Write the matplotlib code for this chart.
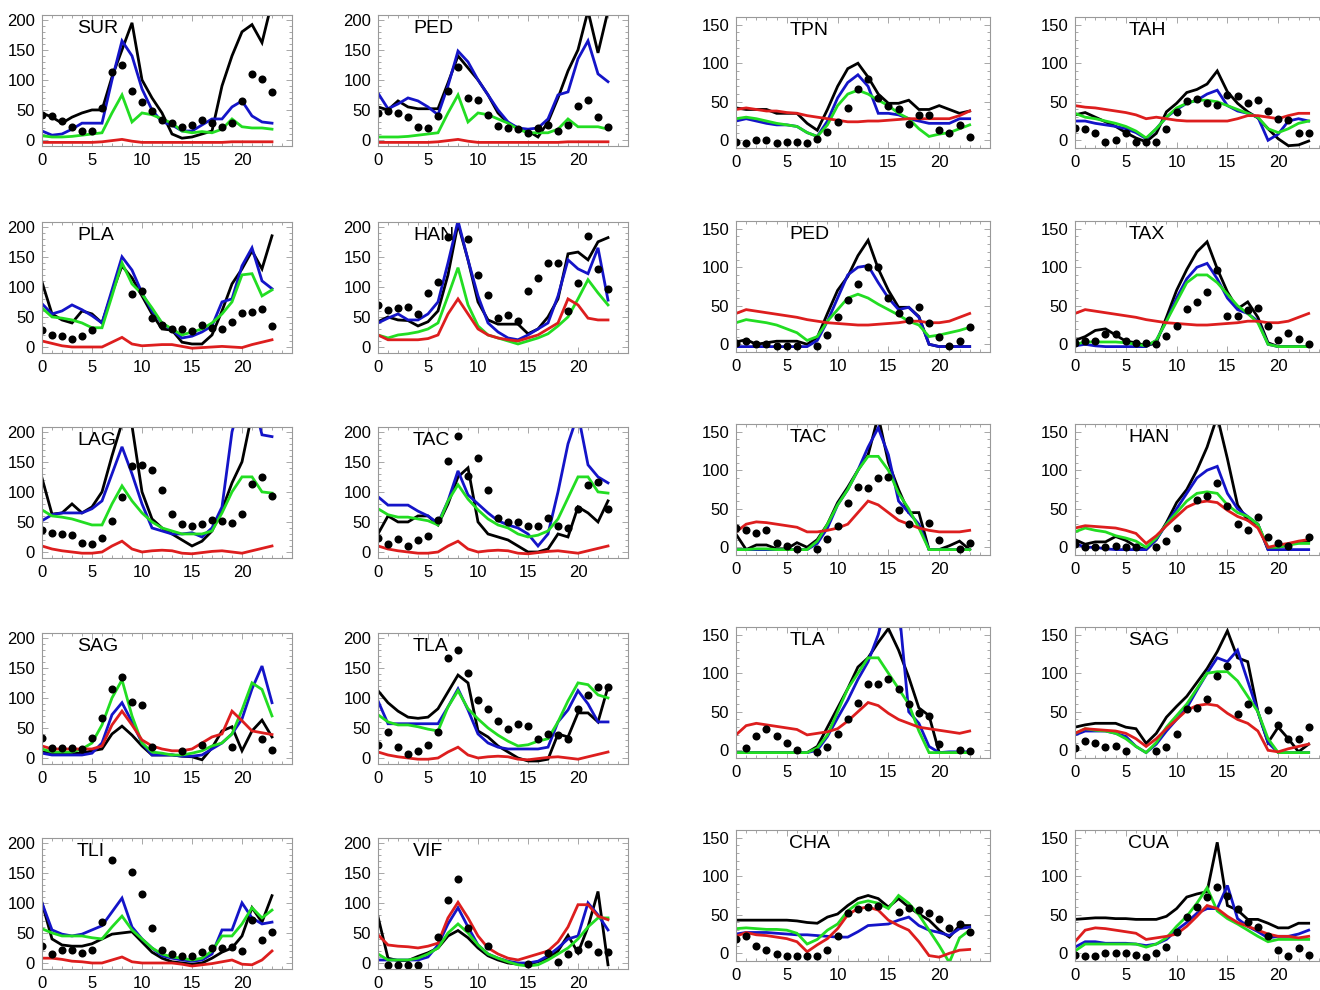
import numpy as np
import matplotlib
matplotlib.use("Agg")
import matplotlib.pyplot as plt
from matplotlib.ticker import MultipleLocator

nan = np.nan
hours = np.arange(24)

# ---- left block (0-200 scale) ----
sur_blk = [45, 38, 28, 38, 45, 50, 50, 105, 150, 195, 100, 70, 45, 10, 3, 5, 10, 15, 90, 140, 180, 192, 162, 230]
sur_blu = [15, 8, 10, 18, 28, 28, 28, 100, 165, 140, 85, 50, 30, 25, 15, 15, 25, 35, 35, 55, 65, 40, 30, 28]
sur_grn = [7, 5, 5, 6, 8, 10, 12, 45, 75, 30, 45, 42, 35, 28, 15, 12, 14, 12, 18, 35, 22, 20, 20, 18]
sur_red = [-4, -4, -4, -4, -4, -4, -3, -1, 1, -2, -4, -4, -4, -4, -4, -4, -4, -4, -4, -3, -3, -3, -3, -3]
sur_obs = [42, 40, 31, 22, 15, 15, 53, 113, 124, 82, 64, 48, 34, 28, 21, 25, 34, 28, 22, 28, 65, 110, 101, 80]

ped_blk = [55, 50, 65, 55, 52, 52, 52, 95, 140, 120, 100, 75, 45, 28, 20, 15, 5, 30, 70, 115, 150, 215, 145, 215]
ped_blu = [78, 52, 60, 70, 65, 55, 42, 90, 148, 130, 100, 75, 50, 30, 20, 18, 20, 35, 75, 80, 135, 165, 110, 97]
ped_grn = [5, 5, 5, 6, 8, 10, 12, 45, 75, 30, 45, 42, 35, 28, 18, 12, 12, 12, 18, 35, 22, 22, 22, 18]
ped_red = [-4, -4, -4, -4, -4, -4, -3, -1, 1, -2, -4, -4, -4, -4, -4, -4, -4, -4, -4, -3, -3, -3, -3, -3]
ped_obs = [45, 48, 45, 38, 22, 20, 40, 82, 122, 70, 67, 42, 24, 20, 18, 12, 20, 25, 15, 25, 57, 67, 38, 22]

pla_blk = [108, 55, 45, 40, 60, 55, 40, 90, 135, 115, 85, 55, 30, 28, 8, 5, 5, 20, 60, 105, 130, 160, 130, 185]
pla_blu = [72, 55, 60, 70, 62, 52, 40, 95, 150, 128, 90, 60, 40, 28, 15, 18, 25, 35, 75, 80, 135, 165, 110, 97]
pla_grn = [65, 50, 48, 45, 40, 32, 32, 85, 140, 105, 88, 65, 40, 30, 20, 25, 30, 40, 55, 75, 120, 122, 85, 95]
pla_red = [10, 6, 2, 0, 0, 0, 0, 8, 16, 5, 2, 3, 4, 4, 1, -2, -1, 0, 1, 0, -1, 4, 8, 12]
pla_obs = [28, 20, 18, 14, 18, 28, nan, nan, nan, 88, 93, 48, 37, 30, 30, 27, 37, 32, 30, 42, 57, 59, 63, 35]

han_blk = [42, 50, 45, 44, 35, 42, 60, 120, 205, 145, 75, 45, 38, 38, 38, 22, 30, 50, 80, 155, 158, 145, 175, 182]
han_blu = [40, 48, 55, 45, 45, 55, 75, 140, 210, 145, 85, 40, 25, 15, 12, 20, 30, 40, 85, 145, 130, 122, 165, 78]
han_grn = [20, 15, 20, 22, 25, 30, 40, 85, 132, 70, 35, 20, 15, 10, 5, 10, 15, 22, 35, 50, 80, 112, 90, 70]
han_red = [20, 12, 12, 12, 12, 14, 20, 55, 80, 55, 30, 20, 15, 12, 10, 15, 20, 30, 40, 80, 70, 48, 45, 45]
han_obs = [70, 62, 65, 67, 55, 90, 108, 183, nan, 180, 120, 87, 49, 53, 43, 93, 115, 140, 140, 60, 107, 185, 130, 97]

lag_blk = [123, 63, 65, 80, 65, 75, 100, 160, 215, 210, 100, 55, 40, 30, 20, 10, 18, 35, 70, 115, 150, 230, 260, 270]
lag_blu = [52, 62, 65, 65, 65, 72, 85, 130, 175, 130, 80, 40, 35, 30, 30, 32, 25, 40, 75, 200, 260, 260, 195, 192]
lag_grn = [70, 60, 58, 55, 50, 45, 45, 80, 110, 85, 65, 50, 40, 35, 30, 30, 30, 35, 65, 100, 125, 125, 100, 98]
lag_red = [10, 5, 2, 0, -2, -2, 0, 10, 18, 5, 0, 2, 3, 2, -2, -3, -1, 1, 2, 0, -2, 2, 6, 10]
lag_obs = [37, 31, 30, 29, 15, 14, 23, 51, 91, 143, 144, 137, 103, 64, 46, 44, 47, 53, 51, 49, 64, 113, 125, 93]

tac_blk = [30, 60, 50, 50, 60, 60, 45, 80, 125, 140, 50, 30, 25, 20, 10, 0, 0, 5, 30, 25, 75, 65, 50, 85]
tac_blu = [92, 78, 78, 78, 68, 60, 48, 85, 135, 95, 80, 65, 52, 45, 40, 30, 10, 30, 100, 180, 230, 145, 125, 115]
tac_grn = [72, 62, 58, 58, 55, 52, 45, 85, 112, 88, 70, 55, 45, 40, 30, 25, 28, 35, 55, 90, 125, 125, 100, 98]
tac_red = [10, 5, 2, 0, -2, -2, 0, 10, 18, 5, 0, 2, 3, 2, -2, -3, -1, 1, 2, 0, -2, 2, 6, 10]
tac_obs = [23, 14, 21, 10, 20, 27, 54, 151, 193, 126, 157, 103, 57, 50, 50, 44, 44, 57, 44, 40, 71, 111, 117, 71]

sag_blk = [10, 8, 8, 8, 8, 12, 15, 40, 53, 38, 20, 5, 5, 5, 3, 2, -3, 17, 45, 52, 12, 45, 63, 35]
sag_blu = [8, 5, 5, 5, 5, 8, 25, 72, 92, 60, 25, 5, 5, 5, 3, 3, 5, 15, 25, 40, 65, 115, 153, 92]
sag_grn = [15, 10, 10, 10, 15, 25, 55, 100, 130, 70, 25, 10, 8, 5, 5, 8, 12, 20, 25, 40, 80, 125, 114, 70]
sag_red = [20, 15, 15, 15, 15, 15, 20, 55, 78, 55, 30, 20, 15, 12, 12, 15, 25, 35, 40, 78, 62, 45, 42, 39]
sag_obs = [34, 16, 16, 17, 15, 33, 66, 114, 135, 93, 88, 19, nan, nan, 11, nan, 21, nan, nan, 19, nan, nan, 31, 13]

tla_blk = [112, 92, 78, 68, 66, 68, 82, 110, 138, 125, 45, 35, 20, 10, 0, -5, -5, -2, 40, 35, 75, 75, 60, 118]
tla_blu = [95, 57, 57, 57, 57, 57, 57, 85, 115, 80, 40, 25, 18, 15, 15, 15, 15, 18, 60, 80, 112, 90, 60, 60]
tla_grn = [72, 60, 55, 55, 52, 48, 45, 85, 112, 82, 65, 50, 38, 28, 20, 22, 28, 32, 60, 95, 125, 122, 105, 100]
tla_red = [10, 5, 2, 0, -2, -2, 0, 10, 18, 5, 0, 2, 3, 2, -2, -3, -1, 1, 2, 0, -2, 2, 6, 10]
tla_obs = [21, 44, 19, 7, 12, 22, 44, 166, 180, 142, 97, 81, 62, 49, 57, 54, 32, 40, 38, 32, 82, 105, 118, 118]

tli_blk = [100, 40, 30, 28, 28, 32, 40, 48, 50, 52, 35, 18, 8, 2, 0, -2, 0, 8, 18, 25, 45, 92, 68, 112]
tli_blu = [100, 55, 48, 45, 48, 55, 62, 85, 108, 60, 40, 25, 12, 8, 5, 3, 5, 15, 55, 55, 100, 75, 65, 68]
tli_grn = [57, 50, 45, 45, 45, 42, 40, 60, 78, 55, 40, 25, 15, 10, 8, 5, 8, 20, 45, 45, 65, 92, 75, 88]
tli_red = [8, 8, 6, 3, 2, 0, 0, 5, 10, 2, 0, 0, 0, 0, -2, -5, -3, -1, 2, 5, -2, -3, 5, 20]
tli_obs = [28, 15, 22, 21, 17, 21, 69, 172, nan, 152, 115, 59, 22, 15, 12, 11, 18, 25, 25, 27, 20, 72, 39, 52]

vif_blk = [77, 8, 4, 4, 11, 17, 25, 45, 54, 42, 25, 12, 5, 0, -2, -2, 2, 8, 20, 46, 17, 60, 119, -3]
vif_blu = [5, 5, 5, 5, 5, 10, 30, 65, 92, 60, 30, 15, 8, 3, 0, 0, 3, 12, 25, 40, 45, 100, 80, 55]
vif_grn = [15, 5, 5, 5, 8, 15, 25, 50, 65, 50, 30, 15, 8, 2, -3, -5, -3, 5, 15, 25, 40, 60, 75, 75]
vif_red = [47, 30, 28, 27, 25, 28, 33, 75, 101, 75, 45, 25, 15, 8, 5, 10, 15, 20, 35, 60, 97, 97, 78, 72]
vif_obs = [nan, -4, -4, -4, -4, nan, 43, 105, 140, 58, nan, 29, nan, nan, nan, -2, nan, 17, 1, 15, 22, 31, 19, 19]

# ---- right block (0-150 scale) ----
tpn_blk = [42, 40, 40, 40, 35, 35, 35, 22, 13, 40, 70, 93, 100, 82, 60, 48, 48, 52, 40, 40, 45, 40, 35, 38]
tpn_blu = [25, 28, 25, 22, 20, 20, 18, 10, 5, 25, 55, 75, 85, 70, 35, 35, 33, 28, 25, 22, 22, 22, 28, 28]
tpn_grn = [28, 30, 28, 25, 22, 20, 18, 10, 5, 20, 45, 60, 65, 60, 52, 45, 35, 28, 15, 5, 8, 10, 15, 20]
tpn_red = [40, 42, 40, 38, 38, 36, 35, 32, 30, 28, 26, 24, 24, 25, 25, 26, 27, 28, 28, 28, 28, 28, 32, 38]
tpn_obs = [-2, -3, 0, 0, -3, -2, -2, -3, 2, 11, 24, 42, 66, 80, 55, 45, 40, 21, 33, 33, 14, 9, 20, 4]

tah_blk = [33, 36, 30, 24, 18, 10, 3, -2, 9, 37, 48, 62, 66, 73, 90, 63, 48, 37, 29, 15, 2, -7, -6, -1]
tah_blu = [25, 25, 22, 20, 18, 15, 10, 2, 15, 30, 40, 48, 52, 60, 65, 45, 38, 35, 30, 0, 8, 25, 28, 25]
tah_grn = [35, 30, 28, 25, 22, 18, 12, 3, 15, 30, 42, 48, 52, 52, 50, 45, 40, 35, 30, 15, 10, 15, 22, 25]
tah_red = [45, 43, 42, 40, 38, 36, 33, 28, 30, 28, 26, 25, 25, 25, 25, 25, 28, 32, 32, 30, 28, 32, 35, 35]
tah_obs = [16, 15, 9, -2, 0, 9, -2, -2, -2, 15, 37, 51, 53, 48, 46, 59, 57, 48, 52, 38, 27, 26, 9, 9]

ped2_blk = [3, 6, 0, 2, 4, 4, 4, 0, 9, 40, 70, 88, 115, 135, 98, 70, 48, 48, 36, 0, -3, -3, -3, -3]
ped2_blu = [-3, -3, -3, -3, -3, -3, -3, -3, 5, 30, 60, 90, 100, 102, 80, 60, 45, 48, 35, 0, -3, -3, -3, -3]
ped2_grn = [28, 32, 30, 28, 25, 20, 15, 5, 10, 30, 45, 60, 65, 60, 52, 45, 38, 30, 25, 10, 12, 15, 18, 22]
ped2_red = [40, 45, 43, 41, 39, 37, 35, 32, 30, 28, 27, 26, 25, 25, 26, 27, 28, 30, 30, 28, 28, 30, 35, 40]
ped2_obs = [2, 4, 0, 0, -2, -2, -2, nan, -2, 12, 35, 57, 78, 100, 100, 60, 40, 31, 48, 28, 10, -2, 4, 22]

tax_blk = [5, 10, 18, 20, 12, 4, 2, -2, 2, 35, 70, 97, 120, 133, 98, 68, 46, 55, 35, 2, -3, -3, -3, -3]
tax_blu = [-2, 0, -2, -3, -3, -3, -3, -3, 5, 30, 60, 85, 100, 105, 85, 60, 45, 40, 30, 0, -3, -3, -3, -3]
tax_grn = [0, 3, 3, 3, 3, 2, 0, -2, 5, 30, 55, 80, 90, 90, 80, 65, 50, 40, 28, 0, -3, -3, -3, -3]
tax_red = [40, 45, 43, 41, 39, 37, 35, 32, 30, 28, 27, 26, 25, 25, 26, 27, 28, 30, 30, 28, 28, 30, 35, 40]
tax_obs = [2, 4, 4, 14, 14, 4, 2, 2, 0, 11, 24, 46, 55, 68, 97, 37, 37, 44, 47, 24, 6, 15, 7, 1]

tac2_blk = [17, -3, 3, 3, -2, -2, 6, 0, 10, 30, 58, 78, 100, 120, 170, 110, 75, 45, 45, -3, -3, 2, 8, -3]
tac2_blu = [-3, -3, -3, -3, -3, -3, -3, -3, 5, 25, 55, 75, 100, 130, 155, 120, 60, 45, 30, -3, -3, -3, -3, -3]
tac2_grn = [-3, -3, -2, -2, -3, -3, -3, -3, 8, 30, 55, 75, 100, 118, 118, 100, 70, 50, 25, -3, -3, -3, -3, -3]
tac2_red = [20, 30, 33, 32, 30, 28, 26, 20, 20, 22, 25, 30, 45, 60, 55, 45, 35, 30, 25, 22, 20, 20, 20, 22]
tac2_obs = [25, 23, 19, 22, 6, 2, -2, nan, -2, 11, 28, 57, 78, 77, 90, 91, 49, 30, nan, 32, 9, nan, -2, 6]

han2_blk = [10, 4, 7, 7, 14, 9, 1, -3, 10, 32, 58, 75, 100, 130, 170, 115, 55, 35, 30, -3, 0, 3, 7, 8]
han2_blu = [5, 0, 0, -2, -3, -3, -3, -3, 10, 30, 50, 70, 90, 100, 105, 70, 50, 40, 30, -3, -3, -3, -3, -3]
han2_grn = [20, 25, 22, 20, 15, 12, 8, 0, 12, 30, 45, 60, 70, 72, 70, 55, 45, 40, 30, 0, 0, 3, 5, 5]
han2_red = [25, 28, 27, 26, 25, 22, 18, 5, 15, 28, 40, 52, 58, 60, 58, 48, 40, 35, 25, 0, 3, 5, 8, 10]
han2_obs = [4, 0, 0, 1, 2, 1, 0, nan, 1, 8, 25, nan, 62, 66, 84, 54, 30, 22, 39, 13, 5, 2, nan, 13]

tla2_blk = [-3, -3, -3, -3, -3, -3, -3, -3, 5, 30, 55, 80, 108, 120, 140, 158, 130, 95, 55, 45, -3, -3, -3, -3]
tla2_blu = [-3, -3, -3, -3, -3, -3, -3, -3, 0, 18, 42, 65, 92, 115, 150, 200, 190, 50, 35, 5, -3, -2, -2, -2]
tla2_grn = [-3, -3, -3, -3, -3, -3, -3, -3, 3, 20, 50, 80, 100, 120, 120, 100, 80, 60, 25, -3, -3, -3, -3, -3]
tla2_red = [20, 32, 35, 33, 31, 29, 27, 20, 22, 24, 28, 38, 50, 62, 58, 48, 40, 35, 30, 28, 26, 24, 22, 25]
tla2_obs = [nan, 3, 18, 28, 18, 10, 0, nan, -2, 4, 21, 40, 62, 86, 86, 93, 80, 60, 49, 45, 8, nan, 0, -1]

sag2_blk = [30, 33, 35, 35, 35, 30, 28, 9, 22, 43, 57, 70, 88, 106, 128, 155, 120, 115, 50, 10, 30, 15, -2, 8]
sag2_blu = [20, 25, 25, 25, 22, 18, 5, -3, 8, 25, 40, 55, 78, 100, 120, 115, 130, 90, 50, 10, -3, -3, -3, -3]
sag2_grn = [22, 28, 26, 25, 22, 15, 5, -3, 10, 30, 45, 60, 80, 100, 102, 102, 90, 70, 50, 15, -3, -3, -3, -3]
sag2_red = [22, 28, 27, 26, 25, 22, 15, 5, 15, 28, 40, 52, 58, 60, 58, 48, 40, 35, 25, 0, -2, 2, 5, 8]
sag2_obs = [3, 12, 10, 4, 5, -1, nan, nan, -1, 4, 21, 53, 55, 66, 97, 110, 47, 60, nan, 52, 33, 15, 15, 30]

cha_blk = [43, 43, 43, 43, 43, 43, 42, 40, 39, 47, 51, 62, 71, 75, 71, 60, 71, 60, 51, 43, 30, 21, 36, 36]
cha_blu = [25, 27, 27, 27, 26, 25, 24, 24, 23, 22, 21, 21, 28, 36, 37, 38, 43, 47, 36, 30, 27, 23, 32, 34]
cha_grn = [32, 33, 32, 31, 31, 30, 26, 12, 18, 30, 38, 55, 65, 68, 65, 58, 75, 65, 50, 30, 10, -12, 20, 30]
cha_red = [22, 27, 24, 23, 21, 19, 15, 2, 11, 19, 32, 50, 58, 60, 56, 43, 36, 30, 15, -3, -5, 0, 4, 5]
cha_obs = [19, 22, 10, 4, -1, -4, -4, -4, -4, 4, 22, 52, 58, 60, 62, nan, 54, 59, 56, 52, 45, 33, 38, 27]

cua_blk = [44, 45, 46, 46, 45, 45, 44, 44, 44, 48, 58, 73, 77, 80, 144, 62, 56, 44, 44, 39, 33, 33, 39, 39]
cua_blu = [8, 15, 15, 13, 13, 13, 12, 10, 12, 18, 30, 40, 52, 58, 58, 88, 45, 35, 28, 20, 22, 22, 25, 30]
cua_grn = [3, 12, 12, 12, 12, 12, 12, 8, 12, 20, 35, 48, 65, 85, 55, 45, 38, 30, 22, 15, 18, 18, 18, 18]
cua_red = [15, 30, 33, 32, 30, 28, 26, 18, 20, 22, 25, 35, 48, 62, 58, 48, 40, 35, 30, 25, 22, 22, 20, 22]
cua_obs = [-2, -4, -4, 1, 1, 1, -2, -5, 1, 8, 27, 47, 60, 73, 86, 75, 58, 40, 34, 23, 4, -4, 7, -2]

left_panels = [
    ("SUR", sur_obs, sur_blk, sur_blu, sur_grn, sur_red),
    ("PED", ped_obs, ped_blk, ped_blu, ped_grn, ped_red),
    ("PLA", pla_obs, pla_blk, pla_blu, pla_grn, pla_red),
    ("HAN", han_obs, han_blk, han_blu, han_grn, han_red),
    ("LAG", lag_obs, lag_blk, lag_blu, lag_grn, lag_red),
    ("TAC", tac_obs, tac_blk, tac_blu, tac_grn, tac_red),
    ("SAG", sag_obs, sag_blk, sag_blu, sag_grn, sag_red),
    ("TLA", tla_obs, tla_blk, tla_blu, tla_grn, tla_red),
    ("TLI", tli_obs, tli_blk, tli_blu, tli_grn, tli_red),
    ("VIF", vif_obs, vif_blk, vif_blu, vif_grn, vif_red),
]
right_panels = [
    ("TPN", tpn_obs, tpn_blk, tpn_blu, tpn_grn, tpn_red),
    ("TAH", tah_obs, tah_blk, tah_blu, tah_grn, tah_red),
    ("PED", ped2_obs, ped2_blk, ped2_blu, ped2_grn, ped2_red),
    ("TAX", tax_obs, tax_blk, tax_blu, tax_grn, tax_red),
    ("TAC", tac2_obs, tac2_blk, tac2_blu, tac2_grn, tac2_red),
    ("HAN", han2_obs, han2_blk, han2_blu, han2_grn, han2_red),
    ("TLA", tla2_obs, tla2_blk, tla2_blu, tla2_grn, tla2_red),
    ("SAG", sag2_obs, sag2_blk, sag2_blu, sag2_grn, sag2_red),
    ("CHA", cha_obs, cha_blk, cha_blu, cha_grn, cha_red),
    ("CUA", cua_obs, cua_blk, cua_blu, cua_grn, cua_red),
]

plt.rcParams['font.family'] = ['Liberation Sans Narrow', 'Liberation Sans', 'DejaVu Sans']

W, H = 1320, 990
fig = plt.figure(figsize=(W / 100, H / 100), dpi=100)

col_x = [42, 378, 736, 1075]
col_w = [250, 250, 254, 254]
left_tops = [15, 222, 427, 633, 838]
right_tops = [17, 221, 424, 627, 830]
ax_h = 131

line_colors = ['#000000', '#1414c8', '#22dd22', '#dd1e1e']


def draw_panel(ax, name, obs, blk, blu, grn, red, ymax, yticks, label_x):
    for vals, c in zip([blk, blu, grn, red], line_colors):
        ax.plot(hours, vals, color=c, lw=2.0, solid_joinstyle='miter')
    ax.plot(hours, obs, 'o', color='black', ms=5.8, mec='none')
    ax.set_xlim(0, 25)
    ax.set_ylim(-10, ymax)
    ax.set_xticks([0, 5, 10, 15, 20])
    ax.set_yticks(yticks)
    ax.xaxis.set_minor_locator(MultipleLocator(1))
    ax.yaxis.set_minor_locator(MultipleLocator(10))
    ax.tick_params(which='both', direction='in', top=True, right=True,
                   color='#999999', labelsize=12, width=0.6)
    ax.tick_params(which='major', length=4, pad=5)
    ax.tick_params(which='minor', length=2)
    for s in ax.spines.values():
        s.set_color('#999999')
        s.set_linewidth(0.8)
    ax.text(label_x, 0.90, name, transform=ax.transAxes, fontsize=14,
            ha='left', va='center')


for i, p in enumerate(left_panels):
    r, c = divmod(i, 2)
    top = left_tops[r]
    ax = fig.add_axes([col_x[c] / W, 1 - (top + ax_h) / H, col_w[c] / W, ax_h / H])
    draw_panel(ax, *p, ymax=208, yticks=[0, 50, 100, 150, 200], label_x=0.14)

for i, p in enumerate(right_panels):
    r, c = divmod(i, 2)
    top = right_tops[r]
    ax = fig.add_axes([col_x[c + 2] / W, 1 - (top + ax_h) / H, col_w[c + 2] / W, ax_h / H])
    draw_panel(ax, *p, ymax=160, yticks=[0, 50, 100, 150], label_x=0.21)

fig.savefig("out.png", dpi=100)
